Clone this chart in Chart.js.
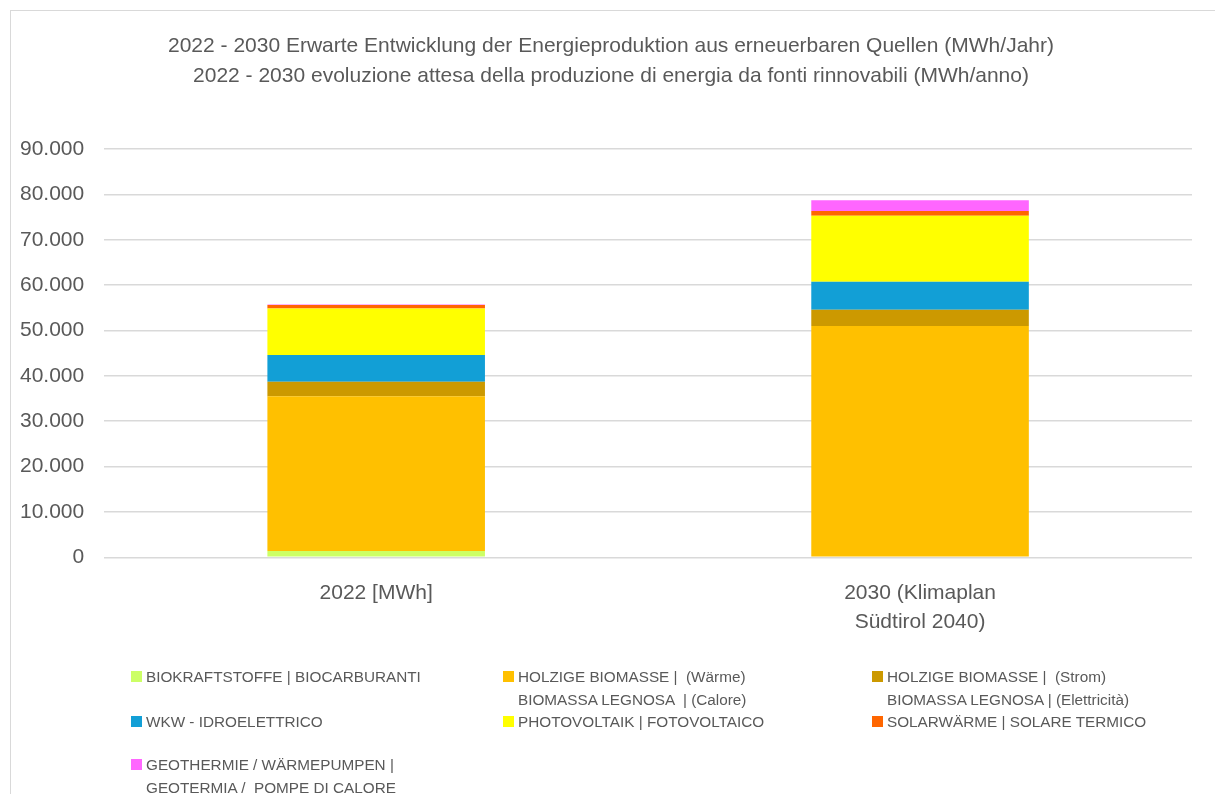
<!DOCTYPE html>
<html>
<head>
<meta charset="utf-8">
<script src="https://cdn.jsdelivr.net/npm/chart.js@4"></script>
<style>
  html, body { margin: 0; padding: 0; background: #fff; }
  body { width: 1215px; height: 794px; position: relative; overflow: hidden; font-family: "Liberation Sans", Arial, sans-serif; }
  #card { position: absolute; left: 10px; top: 10px; width: 1300px; height: 900px; border: 1px solid #d9d9d9; box-sizing: border-box; }
  #wrap { position: absolute; left: 0; top: 0; width: 1215px; height: 794px; }
  #title { position: absolute; left: 111px; width: 1000px; top: 30px; text-align: center; color: #595959; font-size: 21px; line-height: 30px; white-space: nowrap; }
  #legend { position: absolute; left: 0; top: 0; width: 1215px; height: 794px; pointer-events: none; }
  .item { position: absolute; color: #595959; font-size: 15.3px; line-height: 23px; white-space: nowrap; }
  .sw { position: absolute; left: -15px; top: 6px; width: 11px; height: 11px; }
</style>
</head>
<body>
<div id="card"></div>
<div id="wrap"><canvas id="c" width="1215" height="794"></canvas></div>
<div id="title"></div>
<div id="legend"></div>
<script>
const categories = [["2022 [MWh]"], ["2030 (Klimaplan", "Südtirol 2040)"]];
const titleLines = [
  "2022 - 2030 Erwarte Entwicklung der Energieproduktion aus erneuerbaren Quellen (MWh/Jahr)",
  "2022 - 2030 evoluzione attesa della produzione di energia da fonti rinnovabili (MWh/anno)"
];
const seriesNames = [
  ["BIOKRAFTSTOFFE | BIOCARBURANTI"],
  ["HOLZIGE BIOMASSE |  (Wärme)", "BIOMASSA LEGNOSA  | (Calore)"],
  ["HOLZIGE BIOMASSE |  (Strom)", "BIOMASSA LEGNOSA | (Elettricità)"],
  ["WKW - IDROELETTRICO"],
  ["PHOTOVOLTAIK | FOTOVOLTAICO"],
  ["SOLARWÄRME | SOLARE TERMICO"],
  ["GEOTHERMIE / WÄRMEPUMPEN |", "GEOTERMIA /  POMPE DI CALORE"]
];
const biokraftstoffe = [1400, 0];
const holzWaerme = [34100, 51000];
const holzStrom = [3200, 3580];
const wkw = [5900, 6160];
const photovoltaik = [10260, 14520];
const solarwaerme = [750, 1100];
const geothermie = [100, 2360];
const yTicks = [0, 10000, 20000, 30000, 40000, 50000, 60000, 70000, 80000, 90000];

const colors = ["#CCFF66", "#FFC000", "#CC9900", "#129FD6", "#FFFF00", "#FF6600", "#FF66FF"];
const seriesValues = [biokraftstoffe, holzWaerme, holzStrom, wkw, photovoltaik, solarwaerme, geothermie];

const datasets = seriesValues.map((v, i) => ({
  label: seriesNames[i].join(" "),
  data: v,
  backgroundColor: colors[i],
  borderWidth: 0,
  barPercentage: 0.4,
  categoryPercentage: 1.0
}));

const fmt = v => v === 0 ? "0" : v.toLocaleString("de-DE");

const chart = new Chart(document.getElementById("c"), {
  type: "bar",
  data: { labels: categories, datasets },
  options: {
    responsive: false,
    animation: false,
    devicePixelRatio: 1,
    layout: { padding: { left: 0, right: 23, top: 149, bottom: 144 } },
    plugins: {
      legend: { display: false },
      tooltip: { enabled: false },
      title: { display: false }
    },
    scales: {
      x: {
        stacked: true,
        grid: { display: false },
        border: { display: false },
        ticks: { color: "#595959", font: { family: "Liberation Sans", size: 21, lineHeight: 1.35 }, padding: 14, maxRotation: 0 }
      },
      y: {
        stacked: true,
        min: 0,
        max: 90000,
        afterBuildTicks: axis => { axis.ticks = yTicks.map(v => ({ value: v })); },
        grid: { color: "#d9d9d9", lineWidth: 1.5, drawTicks: false },
        border: { display: false },
        ticks: { color: "#595959", font: { family: "Liberation Sans", size: 21 }, padding: 20, callback: v => fmt(v) }
      }
    }
  }
});

// Title as text
const titleEl = document.getElementById("title");
titleLines.forEach(t => { const l = document.createElement("div"); l.textContent = t; titleEl.appendChild(l); });

// HTML legend built from the chart's datasets
const legendPos = [
  [146, 665], [518, 665], [887, 665],
  [146, 710], [518, 710], [887, 710],
  [146, 753]
];
const legendEl = document.getElementById("legend");
chart.data.datasets.forEach((ds, i) => {
  const d = document.createElement("div");
  d.className = "item";
  d.style.left = legendPos[i][0] + "px";
  d.style.top = legendPos[i][1] + "px";
  const sw = document.createElement("div");
  sw.className = "sw";
  sw.style.background = ds.backgroundColor;
  d.appendChild(sw);
  seriesNames[i].forEach(line => {
    const l = document.createElement("div");
    l.textContent = line;
    l.style.whiteSpace = "pre";
    d.appendChild(l);
  });
  legendEl.appendChild(d);
});
</script>
</body>
</html>
